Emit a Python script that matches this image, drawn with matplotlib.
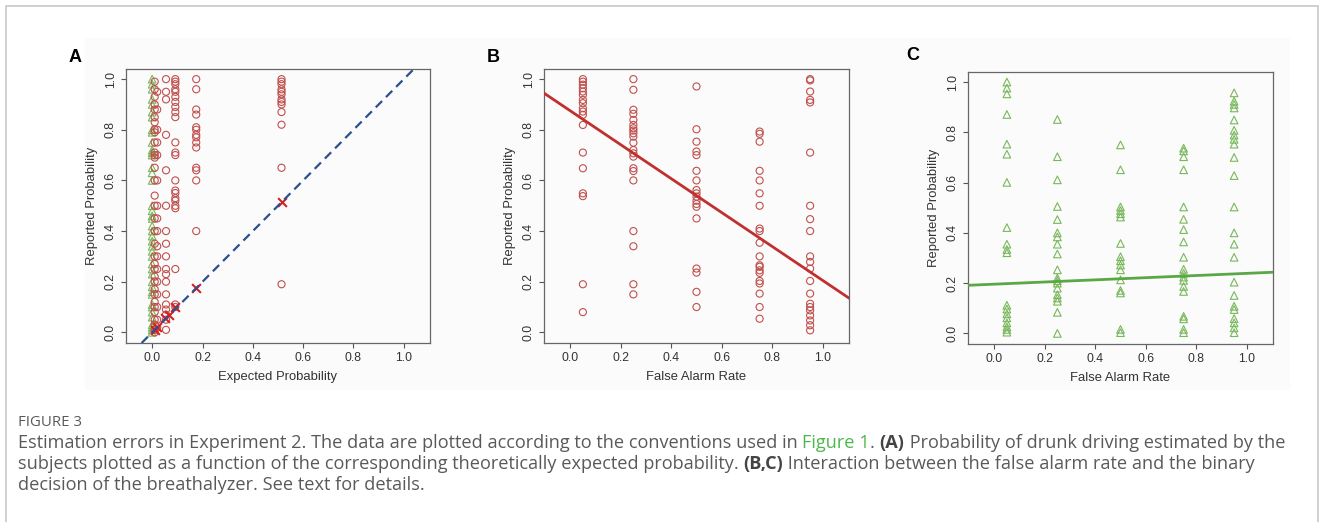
import matplotlib
matplotlib.use("Agg")
import matplotlib.pyplot as plt
from matplotlib.patches import Rectangle
from matplotlib.transforms import IdentityTransform

W, H = 1330, 522

# ---- Panel A: reported vs expected probability ----
a_green_x = 0.0
a_green_y = [1.0, 0.98, 0.96, 0.92, 0.9, 0.87, 0.85, 0.8, 0.79, 0.75, 0.72, 0.71, 0.7,
             0.65, 0.63, 0.6, 0.5, 0.48, 0.46, 0.45, 0.42, 0.4, 0.38, 0.36, 0.34, 0.32,
             0.3, 0.27, 0.25, 0.23, 0.2, 0.18, 0.16, 0.15, 0.11, 0.1, 0.08, 0.06, 0.03,
             0.02, 0.01, 0.0]
a_red_x = [0.01, 0.02, 0.055, 0.092, 0.175, 0.514]
a_red_y = [
    [0.99, 0.96, 0.93, 0.9, 0.88, 0.85, 0.83, 0.8, 0.79, 0.75, 0.71, 0.7, 0.69, 0.65,
     0.6, 0.54, 0.5, 0.45, 0.4, 0.35, 0.3, 0.27, 0.25, 0.22, 0.2, 0.17, 0.15, 0.12,
     0.1, 0.08, 0.05, 0.03, 0.01, 0.0],
    [0.95, 0.88, 0.8, 0.75, 0.7, 0.6, 0.5, 0.45, 0.4, 0.34, 0.3, 0.25, 0.2, 0.15, 0.1,
     0.05, 0.02],
    [1.0, 0.95, 0.92, 0.78, 0.64, 0.5, 0.4, 0.35, 0.3, 0.25, 0.23, 0.2, 0.15, 0.11,
     0.09, 0.07, 0.05, 0.01],
    [1.0, 0.99, 0.98, 0.96, 0.95, 0.93, 0.91, 0.89, 0.87, 0.85, 0.75, 0.71, 0.7, 0.6,
     0.56, 0.55, 0.53, 0.52, 0.5, 0.49, 0.25, 0.11, 0.1],
    [1.0, 0.96, 0.88, 0.86, 0.81, 0.8, 0.78, 0.77, 0.75, 0.73, 0.65, 0.64, 0.6, 0.4],
    [1.0, 0.99, 0.98, 0.96, 0.95, 0.94, 0.92, 0.91, 0.9, 0.87, 0.82, 0.65, 0.19],
]
a_mean_x = [0.01, 0.02, 0.052, 0.065, 0.092, 0.175, 0.514]
a_mean_y = [0.01, 0.02, 0.058, 0.07, 0.1, 0.175, 0.514]

# ---- Panel B: red circles vs false alarm rate ----
fa_levels = [0.05, 0.25, 0.5, 0.75, 0.95]
b_y = [
    [1.0, 0.99, 0.978, 0.964, 0.951, 0.938, 0.918, 0.905, 0.885, 0.872, 0.859, 0.819,
     0.71, 0.648, 0.549, 0.538, 0.19, 0.08],
    [1.0, 0.958, 0.879, 0.863, 0.839, 0.819, 0.806, 0.797, 0.786, 0.773, 0.749, 0.72,
     0.707, 0.694, 0.648, 0.637, 0.6, 0.4, 0.34, 0.19, 0.15],
    [0.971, 0.802, 0.753, 0.714, 0.7, 0.638, 0.6, 0.562, 0.549, 0.536, 0.52, 0.507,
     0.496, 0.45, 0.252, 0.236, 0.16, 0.1],
    [0.793, 0.784, 0.753, 0.638, 0.6, 0.549, 0.5, 0.41, 0.4, 0.354, 0.3, 0.265, 0.259,
     0.245, 0.235, 0.203, 0.193, 0.153, 0.1, 0.054],
    [1.0, 0.995, 0.951, 0.918, 0.908, 0.71, 0.5, 0.447, 0.4, 0.3, 0.278, 0.252, 0.203,
     0.153, 0.113, 0.1, 0.087, 0.067, 0.047, 0.028, 0.008],
]
b_fit = (0.875, -0.67)   # intercept, slope

# ---- Panel C: green triangles vs false alarm rate ----
c_y = [
    [1.0, 0.976, 0.953, 0.871, 0.753, 0.713, 0.601, 0.421, 0.355, 0.334, 0.321, 0.112,
     0.097, 0.078, 0.062, 0.042, 0.026, 0.016, 0.005],
    [0.851, 0.703, 0.611, 0.505, 0.453, 0.4, 0.384, 0.355, 0.316, 0.253, 0.22, 0.21,
     0.2, 0.18, 0.154, 0.141, 0.128, 0.084, 0.0],
    [0.75, 0.651, 0.503, 0.489, 0.476, 0.463, 0.358, 0.305, 0.289, 0.272, 0.253, 0.213,
     0.171, 0.161, 0.016, 0.003],
    [0.737, 0.726, 0.703, 0.651, 0.503, 0.454, 0.413, 0.364, 0.303, 0.255, 0.239, 0.224,
     0.211, 0.187, 0.167, 0.068, 0.058, 0.016, 0.003],
    [0.957, 0.924, 0.911, 0.897, 0.849, 0.808, 0.789, 0.772, 0.753, 0.7, 0.628, 0.503,
     0.4, 0.355, 0.303, 0.204, 0.151, 0.108, 0.095, 0.059, 0.042, 0.022, 0.003],
]
c_fit = (0.196, 0.043)

ticks = [0.0, 0.2, 0.4, 0.6, 0.8, 1.0]
tick_labels = ["0.0", "0.2", "0.4", "0.6", "0.8", "1.0"]

RED = "#c0504d"
GREEN = "#78b85a"
TXT = "#333333"

plt.rcParams["font.family"] = ["Liberation Sans", "DejaVu Sans"]

fig = plt.figure(figsize=(W / 100, H / 100), dpi=100)

# faint panel backdrop and outer frame
fig.add_artist(Rectangle((85 / W, 1 - 390 / H), 1205 / W, 352 / H, transform=fig.transFigure,
                         facecolor="#fbfbfb", edgecolor="none", zorder=-5))
fig.add_artist(Rectangle((6 / W, -0.05), 1312 / W, 1 - 6 / H + 0.05, transform=fig.transFigure,
                         facecolor="none", edgecolor="#c8c8c8", lw=1.2, zorder=-4))


def make_axes(left, top, right, bottom):
    ax = fig.add_axes([left / W, 1 - bottom / H, (right - left) / W, (bottom - top) / H])
    ax.set_facecolor("none")
    ax.set_xlim(-0.104, 1.104)
    ax.set_ylim(-0.042, 1.04)
    ax.set_xticks(ticks)
    ax.set_xticklabels(tick_labels)
    ax.set_yticks(ticks)
    ax.set_yticklabels(tick_labels, rotation=90, va="center")
    ax.tick_params(direction="out", length=3.5, width=0.8, color="#555555",
                   labelsize=8.8, labelcolor=TXT, pad=3)
    for s in ax.spines.values():
        s.set_color("#666666")
        s.set_linewidth(0.9)
    ax.set_ylabel("Reported Probability", fontsize=9.4, color=TXT, labelpad=5)
    return ax


def circles(ax, x, ys):
    ax.scatter([x] * len(ys), ys, s=26, marker="o", facecolors="none",
               edgecolors=RED, linewidths=0.8, zorder=3)


def triangles(ax, x, ys):
    ax.scatter([x] * len(ys), ys, s=30, marker="^", facecolors="none",
               edgecolors=GREEN, linewidths=0.8, zorder=3)


# Panel A
axA = make_axes(126, 69, 430, 343)
triangles(axA, a_green_x, a_green_y)
for x, ys in zip(a_red_x, a_red_y):
    circles(axA, x, ys)
axA.scatter(a_mean_x, a_mean_y, marker="x", s=40, color="#d62020", linewidths=1.5, zorder=4)
axA.axline((0, 0), slope=1, color="#2c4f8f", lw=1.6, dashes=(4, 2.5), zorder=5)
axA.set_xlabel("Expected Probability", fontsize=9.4, color=TXT, labelpad=5)

# Panel B
axB = make_axes(544, 69, 849, 343)
for x, ys in zip(fa_levels, b_y):
    circles(axB, x, ys)
axB.axline((0, b_fit[0]), slope=b_fit[1], color="#c0302e", lw=2, zorder=5)
axB.set_xlabel("False Alarm Rate", fontsize=9.4, color=TXT, labelpad=5)

# Panel C
axC = make_axes(968, 72, 1273, 344)
for x, ys in zip(fa_levels, c_y):
    triangles(axC, x, ys)
axC.axline((0, c_fit[0]), slope=c_fit[1], color="#5aa845", lw=2, zorder=5)
axC.set_xlabel("False Alarm Rate", fontsize=9.4, color=TXT, labelpad=5)

# panel letters
for lx, ly, letter in [(75, 58, "A"), (493, 58, "B"), (913, 56, "C")]:
    fig.text(lx / W, 1 - ly / H, letter, fontsize=13, fontweight="bold",
             ha="center", va="center", color="black")

# caption
CAP = "#595959"
fig.text(18 / W, 1 - 426 / H, "FIGURE 3", fontsize=10.8, color="#5a5a5a",
         family="Open Sans", va="baseline")

renderer = fig.canvas.get_renderer()


def draw_runs(x, py, runs):
    for txt, color, weight in runs:
        t = fig.text(x, H - py, txt, transform=IdentityTransform(), fontsize=13.05,
                     family="Open Sans", color=color, fontweight=weight, va="baseline")
        x += t.get_window_extent(renderer).width


draw_runs(18, 448, [
    ("Estimation errors in Experiment 2. The data are plotted according to the conventions used in ", CAP, "normal"),
    ("Figure 1", "#4cb84c", "normal"),
    (". ", CAP, "normal"),
    ("(A)", "#444444", "bold"),
    (" Probability of drunk driving estimated by the", CAP, "normal"),
])
draw_runs(18, 469, [
    ("subjects plotted as a function of the corresponding theoretically expected probability. ", CAP, "normal"),
    ("(B,C)", "#444444", "bold"),
    (" Interaction between the false alarm rate and the binary", CAP, "normal"),
])
draw_runs(18, 490, [
    ("decision of the breathalyzer. See text for details.", CAP, "normal"),
])

fig.savefig("out.png", dpi=100)
